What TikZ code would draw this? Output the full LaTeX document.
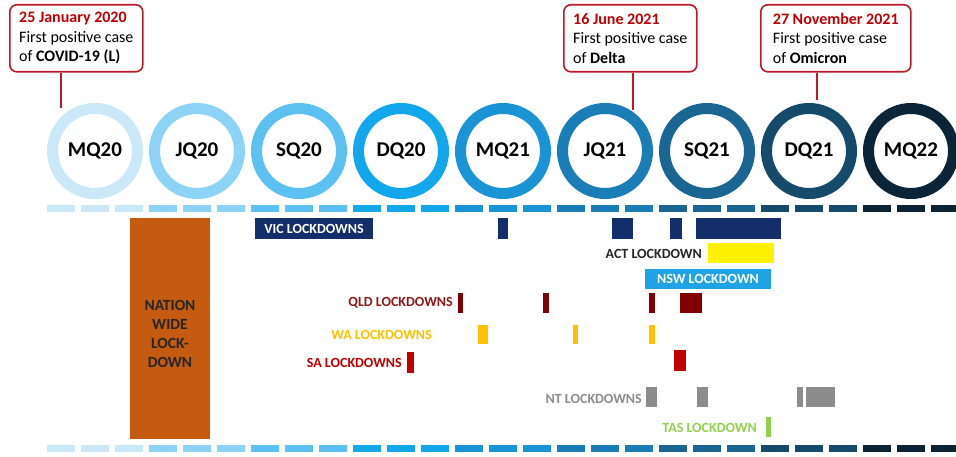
\documentclass[tikz,border=0pt]{standalone}
\usepackage{fontspec}
\setmainfont{Carlito}
\usepackage{xcolor}
\definecolor{q0}{HTML}{CBE8F9}
\definecolor{q1}{HTML}{8DD3F5}
\definecolor{q2}{HTML}{5CC1F0}
\definecolor{q3}{HTML}{12A7EA}
\definecolor{q4}{HTML}{1B94D6}
\definecolor{q5}{HTML}{1A7DB5}
\definecolor{q6}{HTML}{1B6592}
\definecolor{q7}{HTML}{164A6B}
\definecolor{q8}{HTML}{0B2437}
\definecolor{calloutred}{HTML}{C0182A}
\definecolor{nationbrown}{HTML}{C55A11}
\definecolor{vicnavy}{HTML}{132E6B}
\definecolor{nswblue}{HTML}{1FA3E4}
\definecolor{qldred}{HTML}{800000}
\definecolor{waamber}{HTML}{FFC000}
\definecolor{sared}{HTML}{C00000}
\definecolor{ntgrey}{HTML}{8C8C8C}
\definecolor{tasgreen}{HTML}{92D050}
\newcommand{\cvBar}[5]{%
    \fill[#5] (#1,#2) rectangle (#3,#4);
}
\tikzset{
    quarter/.style={circle, draw=#1, line width=11pt, minimum size=85pt, inner sep=0pt,
        font=\fontsize{21}{21}\selectfont\bfseries},
    callout/.style={draw=calloutred, line width=1.6pt, rounded corners=7pt, align=left,
        anchor=north west, inner xsep=8pt, inner ysep=0pt, minimum height=67pt,
        font=\fontsize{16}{19.5}\selectfont},
    calloutline/.style={draw=calloutred, line width=1.6pt},
    statelabel/.style={anchor=east, inner sep=0pt, font=\fontsize{14}{14}\selectfont\bfseries},
    statebox/.style={fill=#1, text=white, inner sep=0pt, font=\fontsize{14}{14}\selectfont\bfseries},
}

\begin{document}
\begin{tikzpicture}[x=1pt, y=-1pt]
    \clip (0,0) rectangle (956,457);
    \fill[white] (0,0) rectangle (956,457);
    % quarters and the dashed time lines
    \foreach \i/\l in {0/MQ20, 1/JQ20, 2/SQ20, 3/DQ20, 4/MQ21, 5/JQ21, 6/SQ21, 7/DQ21, 8/MQ22} {
        \node[quarter=q\i] (q\i) at ({95+102*\i}, 151) {\l};
        \foreach \j in {0,1,2} {
            \fill[q\i] ({47+102*\i+34*\j}, 205) rectangle ++(28,7);
            \fill[q\i] ({47+102*\i+34*\j}, 445) rectangle ++(28,7);
        }
    }
    % first cases
    \node[callout, minimum width=133pt] (c1) at (9,4)
        {{\color{sared}\bfseries 25 January 2020}\\First positive case\\of \textbf{COVID-19 (L)}};
    \node[callout, minimum width=133pt] (c2) at (563,4)
        {{\color{sared}\bfseries 16 June 2021}\\First positive case\\of \textbf{Delta}};
    \node[callout, minimum width=150pt] (c3) at (760,4)
        {{\color{sared}\bfseries 27 November 2021}\\First positive case\\of \textbf{Omicron}};
    \coordinate (p1) at (61,108);
    \coordinate (p2) at (633,110);
    \coordinate (p3) at (817,100);
    \draw[calloutline] (c1.south -| p1) -- (p1);
    \draw[calloutline] (c2.south -| p2) -- (p2);
    \draw[calloutline] (c3.south -| p3) -- (p3);
    % nation wide lockdown
    \node[fill=nationbrown, minimum width=80pt, minimum height=221pt, inner sep=0pt] (nation) at (170,328.5) {};
    \node[align=center, inner sep=0pt, font=\fontsize{15.5}{19}\selectfont\bfseries, text=black!85]
        (nationtext) at (170,334) {NATION\\WIDE\\LOCK-\\DOWN};
    % states
    \node[statebox=vicnavy, minimum width=118pt, minimum height=21pt] (vic) at (314,228.5) {VIC LOCKDOWNS};
    \cvBar{498}{218}{508}{239}{vicnavy}
    \cvBar{612}{218}{633}{239}{vicnavy}
    \cvBar{670}{218}{682}{239}{vicnavy}
    \cvBar{696}{218}{781}{239}{vicnavy}
    \node[statelabel, text=black!85] (act) at (702,254) {ACT LOCKDOWN};
    \cvBar{708}{243}{774}{263}{yellow}
    \node[statebox=nswblue, minimum width=126pt, minimum height=20pt] (nsw) at (708,279) {NSW LOCKDOWN};
    \node[statelabel, text=qldred!90!white] (qld) at (453,303) {QLD LOCKDOWNS};
    \cvBar{458}{293}{463}{313}{qldred}
    \cvBar{543}{293}{549}{313}{qldred}
    \cvBar{649}{293}{655}{313}{qldred}
    \cvBar{680}{293}{702}{313}{qldred}
    \node[statelabel, text=waamber] (wa) at (432,334.5) {WA LOCKDOWNS};
    \cvBar{478}{325}{488}{344}{waamber}
    \cvBar{573}{325}{578}{344}{waamber}
    \cvBar{649}{325}{655}{344}{waamber}
    \node[statelabel, text=sared] (sa) at (402,363) {SA LOCKDOWNS};
    \cvBar{407}{352}{414}{373}{sared}
    \cvBar{674}{350}{686}{371}{sared}
    \node[statelabel, text=ntgrey] (nt) at (642,399) {NT LOCKDOWNS};
    \cvBar{646}{387}{657}{407}{ntgrey}
    \cvBar{697}{387}{708}{407}{ntgrey}
    \cvBar{797}{387}{803}{407}{ntgrey}
    \cvBar{806}{387}{835}{407}{ntgrey}
    \node[statelabel, text=tasgreen] (tas) at (757,428) {TAS LOCKDOWN};
    \cvBar{766}{417}{771}{437}{tasgreen}
\end{tikzpicture}
\end{document}
